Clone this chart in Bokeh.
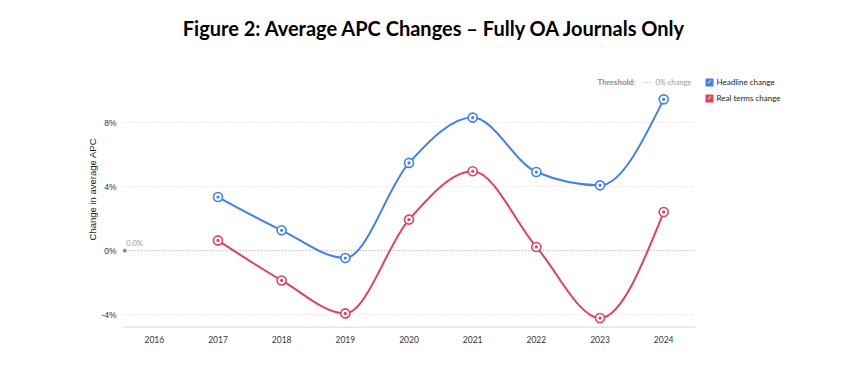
import numpy as np
from bokeh.plotting import figure
from bokeh.layouts import row
from bokeh.models import Range1d, Label, FixedTicker, ColumnDataSource
from bokeh.embed import file_html
from bokeh.resources import INLINE

# ---- data ----
years = [2017, 2018, 2019, 2020, 2021, 2022, 2023, 2024]
axis_years = [2016, 2017, 2018, 2019, 2020, 2021, 2022, 2023, 2024]
headline = [3.35, 1.27, -0.46, 5.48, 8.31, 4.91, 4.08, 9.45]
real_terms = [0.64, -1.86, -3.92, 1.94, 4.96, 0.23, -4.21, 2.41]
y_ticks = [-4, 0, 4, 8]
y_tick_labels = {-4: "-4%", 0: "0%", 4: "4%", 8: "8%"}
title_text = "Figure 2: Average APC Changes \u2013 Fully OA Journals Only"
y_title = "Change in average APC"
series_names = ["Headline change", "Real terms change"]

BLUE = "#3f80ee"
RED = "#e33f5f"

LEFT_W = 98           # width of the strip that holds the y-axis title
H = 369

# ---- strip with the y-axis title ----
side = figure(width=LEFT_W, height=H, output_backend="svg", toolbar_location=None,
              x_range=Range1d(0, LEFT_W), y_range=Range1d(0, H),
              min_border_left=0, min_border_right=0, min_border_top=0, min_border_bottom=0)
side.axis.visible = False
side.grid.visible = False
side.outline_line_color = None
side.add_layout(Label(x=91.5, y=H - 209, text=y_title, angle=np.pi / 2,
                      text_font="Liberation Sans", text_font_size="9.5px",
                      text_color="#222222", text_align="center", text_baseline="middle"))

# ---- main chart ----
X0, X1 = 2015.5, 2026.62
Y0, Y1 = -4.8, 15.125

p = figure(width=832 - LEFT_W, height=H, output_backend="svg", toolbar_location=None,
           x_range=Range1d(X0, X1), y_range=Range1d(Y0, Y1),
           min_border_left=122 - LEFT_W, min_border_right=2, min_border_top=8,
           min_border_bottom=42)
p.outline_line_color = None
p.xgrid.visible = False
p.ygrid.visible = False
p.background_fill_color = "white"
p.border_fill_color = "white"

p.xaxis.ticker = FixedTicker(ticks=axis_years)
p.xaxis.axis_line_color = None
p.xaxis.major_tick_line_color = None
p.xaxis.minor_tick_line_color = None
p.xaxis.major_tick_out = 0
p.xaxis.major_tick_in = 0
p.xaxis.minor_tick_out = 0
p.xaxis.major_label_text_font = "Lato"
p.xaxis.major_label_text_font_size = "8.5px"
p.xaxis.major_label_text_color = "#333333"
p.xaxis.major_label_standoff = 8

p.yaxis.ticker = FixedTicker(ticks=y_ticks)
p.yaxis.major_label_overrides = y_tick_labels
p.yaxis.axis_line_color = None
p.yaxis.major_tick_line_color = None
p.yaxis.minor_tick_line_color = None
p.yaxis.major_tick_out = 0
p.yaxis.major_tick_in = 0
p.yaxis.minor_tick_out = 0
p.yaxis.major_label_text_font = "Liberation Sans"
p.yaxis.major_label_text_font_size = "8.5px"
p.yaxis.major_label_text_color = "#333333"
p.yaxis.major_label_standoff = 6


def px_to_x(px):
    return X0 + (px - 122) / 63.67


def py_to_y(py):
    return Y0 + (327 - py) / 16.01


# gridlines & axis line (drawn across the data area only)
xs_left = axis_years[0] - 0.5
xs_right = axis_years[-1] + 0.5
for t in y_ticks:
    if t == 0:
        continue
    p.segment(x0=xs_left, y0=t, x1=xs_right, y1=t, line_color="#d6d6d6",
              line_width=1, line_dash="1 2")
p.segment(x0=xs_left + 0.05, y0=0, x1=xs_right, y1=0, line_color="#9a9a9a",
          line_width=1, line_dash="1 2")
p.segment(x0=xs_left, y0=Y0, x1=xs_right, y1=Y0, line_color="#cccccc", line_width=1.5)
p.scatter([xs_left + 0.035], [0], size=3, color="#888888")
p.add_layout(Label(x=xs_left + 0.06, y=0.18, text="0.0%", text_font_size="7.5px",
                   text_font="Lato", text_color="#999999", text_baseline="bottom"))


def monotone_beziers(x, y):
    x = np.asarray(x, float)
    y = np.asarray(y, float)
    n = len(x)
    t = np.zeros(n)
    for i in range(1, n - 1):
        h0 = x[i] - x[i - 1]
        h1 = x[i + 1] - x[i]
        s0 = (y[i] - y[i - 1]) / h0
        s1 = (y[i + 1] - y[i]) / h1
        pp = (s0 * h1 + s1 * h0) / (h0 + h1)
        t[i] = (np.sign(s0) + np.sign(s1)) * min(abs(s0), abs(s1), 0.5 * abs(pp))
    h = x[1] - x[0]
    t[0] = (3 * (y[1] - y[0]) / h - t[1]) / 2
    h = x[-1] - x[-2]
    t[-1] = (3 * (y[-1] - y[-2]) / h - t[-2]) / 2
    dx = x[1:] - x[:-1]
    return dict(x0=x[:-1], y0=y[:-1], x1=x[1:], y1=y[1:],
                cx0=x[:-1] + dx / 3, cy0=y[:-1] + dx * t[:-1] / 3,
                cx1=x[1:] - dx / 3, cy1=y[1:] - dx * t[1:] / 3)


for vals, col in [(real_terms, RED), (headline, BLUE)]:
    src = ColumnDataSource(monotone_beziers(years, vals))
    p.bezier(x0="x0", y0="y0", x1="x1", y1="y1", cx0="cx0", cy0="cy0",
             cx1="cx1", cy1="cy1", source=src, line_color=col, line_width=2)
    p.scatter(years, vals, size=9, fill_color="white", line_color=col, line_width=1.6)
    p.scatter(years, vals, size=3.2, fill_color=col, line_color=None)

# title
p.add_layout(Label(x=px_to_x(434.5), y=py_to_y(28), text=title_text, text_font="Lato",
                   text_font_style="bold", text_font_size="20px", text_color="#000000",
                   text_align="center", text_baseline="middle"))

# threshold legend
p.add_layout(Label(x=px_to_x(597), y=py_to_y(82), text="Threshold:", text_font="Lato",
                   text_font_style="bold", text_font_size="8px", text_color="#8a8a8a",
                   text_baseline="middle"))
p.segment(x0=px_to_x(643), y0=py_to_y(82), x1=px_to_x(652), y1=py_to_y(82),
          line_color="#999999", line_width=1.2, line_dash="1 2")
p.add_layout(Label(x=px_to_x(655), y=py_to_y(82), text="0% change", text_font="Lato",
                   text_font_size="7.5px", text_color="#999999", text_baseline="middle"))

# series legend
for i, (name, col) in enumerate(zip(series_names, [BLUE, RED])):
    cy = 82 + 16 * i
    p.rect(x=[px_to_x(709)], y=[py_to_y(cy)], width=8, height=8,
           width_units="screen", height_units="screen", fill_color=col, line_color=None)
    p.add_layout(Label(x=px_to_x(709), y=py_to_y(cy), text="\u2713", text_font="DejaVu Sans",
                       text_font_size="6.5px", text_color="white", text_align="center",
                       text_baseline="middle"))
    p.add_layout(Label(x=px_to_x(716), y=py_to_y(cy), text=name, text_font="Lato",
                       text_font_size="8px", text_color="#222222", text_baseline="middle"))

layout = row(side, p, spacing=0)
open("out.html", "w").write(file_html(layout, INLINE))
